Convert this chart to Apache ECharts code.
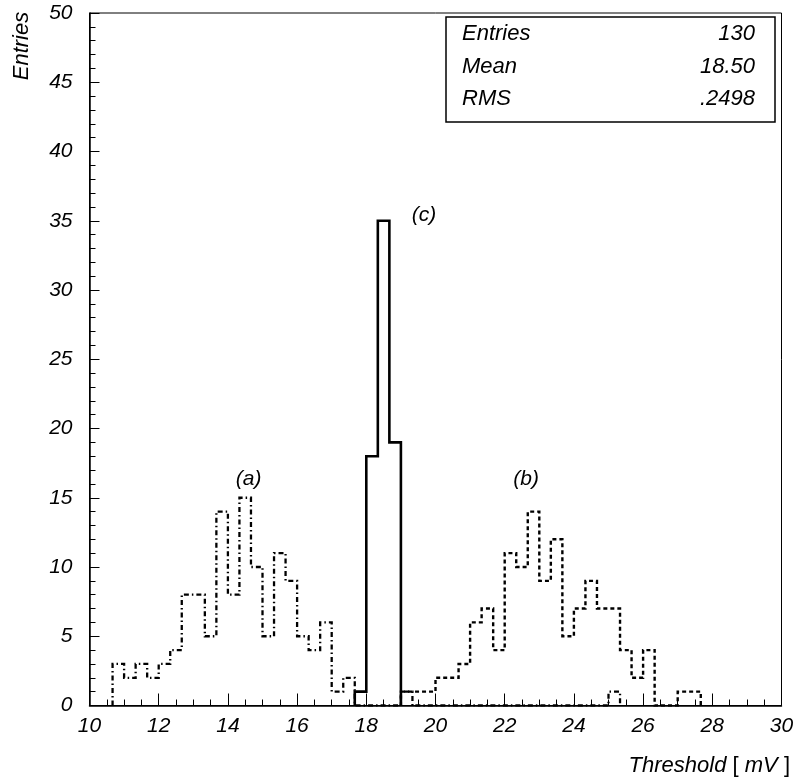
<!DOCTYPE html>
<html>
<head>
<meta charset="utf-8">
<script src="https://cdn.jsdelivr.net/npm/echarts@6/dist/echarts.min.js"></script>
<style>
  html, body { margin: 0; padding: 0; background: #fff; }
  #chart { width: 797px; height: 780px; }
</style>
</head>
<body>
<div id="chart"></div>
<script>
// Bin width of all three threshold histograms, in mV
const binWidth = 1 / 3;

// (a) dotted histogram: counts per bin starting at 10.667 mV
const aStart = 10 + 2 / 3;
const aCounts = [3, 2, 3, 2, 3, 4, 8, 8, 5, 14, 8, 15, 10, 5, 11, 9, 5, 4, 6, 1, 2,
                 0, 0, 0, 0, 1,
                 0, 0, 0, 0, 0, 0, 0, 0, 0, 0, 0, 0, 0, 0, 0, 0, 0, 1];

// (b) dashed histogram: counts per bin starting at 19.0 mV
const bStart = 19;
const bCounts = [1, 1, 1, 2, 2, 3, 6, 7, 4, 11, 10, 14, 9, 12, 5, 7, 9, 7, 7, 4, 2, 4, 0, 0, 1, 1];

// (c) solid histogram: counts per bin starting at 17.667 mV
const cStart = 17 + 2 / 3;
const cCounts = [1, 18, 35, 19];

// Axis ranges and tick spacing
const xMin = 10, xMax = 30, xStep = 2;
const yMin = 0, yMax = 50, yStep = 5;

// Statistics box rows
const statNames = ['Entries', 'Mean', 'RMS'];
const statValues = ['130', '18.50', '.2498'];

// Curve labels
const curveLabels = ['(a)', '(b)', '(c)'];

const FONT = 'Liberation Sans, Arial, Helvetica, sans-serif';

// Turn bin counts into the outline of a histogram (step line through bin edges)
function outline(start, counts) {
  const pts = [[start, 0]];
  counts.forEach((v, i) => pts.push([start + (i + 1) * binWidth, v]));
  pts.push([start + counts.length * binWidth, 0]);
  return pts;
}

const chart = echarts.init(document.getElementById('chart'), null, { renderer: 'canvas' });

function histSeries(name, start, counts, type, width, z) {
  return {
    name: name,
    type: 'line',
    step: 'start',
    data: outline(start, counts),
    showSymbol: false,
    symbol: 'none',
    silent: true,
    animation: false,
    z: z,
    lineStyle: { color: '#000', width: width, type: type, cap: 'butt', join: 'miter' }
  };
}

const option = {
  backgroundColor: '#fff',
  animation: false,
  grid: {
    left: 89.5, right: 15.5, top: 13, bottom: 74.5,
    show: true, borderColor: '#000', borderWidth: 1, backgroundColor: 'transparent'
  },
  xAxis: {
    type: 'value', min: xMin, max: xMax, interval: xStep,
    axisLine: { show: true, onZero: false, lineStyle: { color: '#000', width: 1.5 } },
    axisTick: { show: true, inside: true, length: 12, lineStyle: { color: '#000', width: 1 } },
    minorTick: { show: true, splitNumber: 4, length: 6, lineStyle: { color: '#000', width: 1 } },
    splitLine: { show: false },
    axisLabel: {
      color: '#000', fontFamily: FONT, fontStyle: 'italic', fontSize: 21, margin: 10
    }
  },
  yAxis: {
    type: 'value', min: yMin, max: yMax, interval: yStep,
    axisLine: { show: true, onZero: false, lineStyle: { color: '#000', width: 1.5 } },
    axisTick: { show: true, inside: true, length: 10, lineStyle: { color: '#000', width: 1 } },
    minorTick: { show: true, splitNumber: 5, length: 6, lineStyle: { color: '#000', width: 1 } },
    splitLine: { show: false },
    axisLabel: {
      color: '#000', fontFamily: FONT, fontStyle: 'italic', fontSize: 21, margin: 17
    }
  },
  series: [
    histSeries('a', aStart, aCounts, [5, 3, 1.5, 3], 2.3, 2),
    histSeries('b', bStart, bCounts, [4, 3], 2.4, 2),
    histSeries('c', cStart, cCounts, 'solid', 2.6, 3)
  ],
  graphic: []
};

chart.setOption(option);

// Curve annotations placed in data coordinates through the grid
const labelAnchors = [[14.6, 16.35], [22.62, 16.35], [19.67, 35.4]];
const g = [];
labelAnchors.forEach((p, i) => {
  const px = chart.convertToPixel({ gridIndex: 0 }, p);
  g.push({
    type: 'text', x: px[0], y: px[1], z: 10,
    style: { text: curveLabels[i], font: 'italic 21px ' + FONT, fill: '#000',
             align: 'center', verticalAlign: 'middle' }
  });
});

// Axis titles
g.push({
  type: 'text', x: 22, y: 46, rotation: Math.PI / 2, z: 10,
  style: { text: 'Entries', font: 'italic 22px ' + FONT, fill: '#000',
           align: 'center', verticalAlign: 'middle' }
});
g.push({
  type: 'text', x: 790, y: 766, z: 10,
  style: {
    text: '{i|Threshold}{n| [ }{i|mV}{n| ]}',
    align: 'right', verticalAlign: 'middle',
    rich: {
      i: { font: 'italic 22px ' + FONT, fill: '#000' },
      n: { font: '22px ' + FONT, fill: '#000', whiteSpace: 'pre' }
    }
  }
});

// Statistics box
g.push({
  type: 'rect', z: 10,
  shape: { x: 446, y: 17, width: 329, height: 105 },
  style: { fill: '#fff', stroke: '#000', lineWidth: 1.5 }
});
const rowY = [34, 67, 99];
statNames.forEach((s, i) => {
  g.push({
    type: 'text', x: 462, y: rowY[i], z: 11,
    style: { text: s, font: 'italic 22px ' + FONT, fill: '#000', align: 'left', verticalAlign: 'middle' }
  });
  g.push({
    type: 'text', x: 755, y: rowY[i], z: 11,
    style: { text: statValues[i], font: 'italic 22px ' + FONT, fill: '#000', align: 'right', verticalAlign: 'middle' }
  });
});

chart.setOption({ graphic: g });
</script>
</body>
</html>
